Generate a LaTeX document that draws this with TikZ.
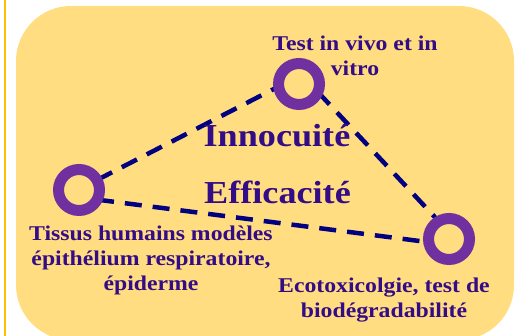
\documentclass[tikz,border=0pt]{standalone}
\usepackage{fontspec}
\setmainfont[FakeStretch=1.13]{Liberation Serif}
\definecolor{boxc}{RGB}{255,221,128}
\definecolor{orangec}{RGB}{255,192,0}
\definecolor{ringc}{RGB}{112,48,160}
\definecolor{linkc}{RGB}{0,0,128}
\definecolor{txtc}{RGB}{51,12,135}
\pgfdeclarelayer{bgl}
\pgfdeclarelayer{lnl}
\pgfsetlayers{bgl,lnl,main}
\begin{document}
\begin{tikzpicture}[x=1pt,y=-1pt,
 ring/.style={circle,draw=ringc,line width=11pt,minimum size=41pt,inner sep=0pt,outer sep=0pt},
 link/.style={draw=linkc,line width=4.5pt,dash pattern=on 17pt off 11pt},
 lbl/.style={text=txtc,font=\bfseries\fontsize{21}{25}\selectfont,align=center,inner sep=0pt},
 big/.style={text=txtc,font=\bfseries\fontsize{32}{38}\selectfont,inner sep=0pt}]
\useasboundingbox (0,0) rectangle (515,336);
\begin{pgfonlayer}{bgl}
\fill[boxc,rounded corners=55pt] (16,6) rectangle (514,340);
\draw[orangec,line width=2pt] (5,0) -- (5,336);
\end{pgfonlayer}
\node[ring] (T) at (299,84) {};
\node[ring] (L) at (79,190) {};
\node[ring] (R) at (449,239) {};
\begin{pgfonlayer}{lnl}
\draw[link] (L.29) -- (T.187);
\draw[link] (T.-23) -- (R.120);
\draw[link] (L.-28) -- (R.189);
\end{pgfonlayer}
\node[lbl,anchor=base] (tl) at (355,76) {Test in vivo et in\\vitro};
\node[big,anchor=base] (inn) at (277,147) {Innocuité};
\node[big,anchor=base] (eff) at (277.5,204) {Efficacité};
\node[lbl,anchor=base] (ll) at (151,291) {Tissus humains modèles\\épithélium respiratoire,\\épiderme};
\node[lbl,anchor=base] (rl) at (384,318) {Ecotoxicolgie, test de\\biodégradabilité};
\end{tikzpicture}
\end{document}
